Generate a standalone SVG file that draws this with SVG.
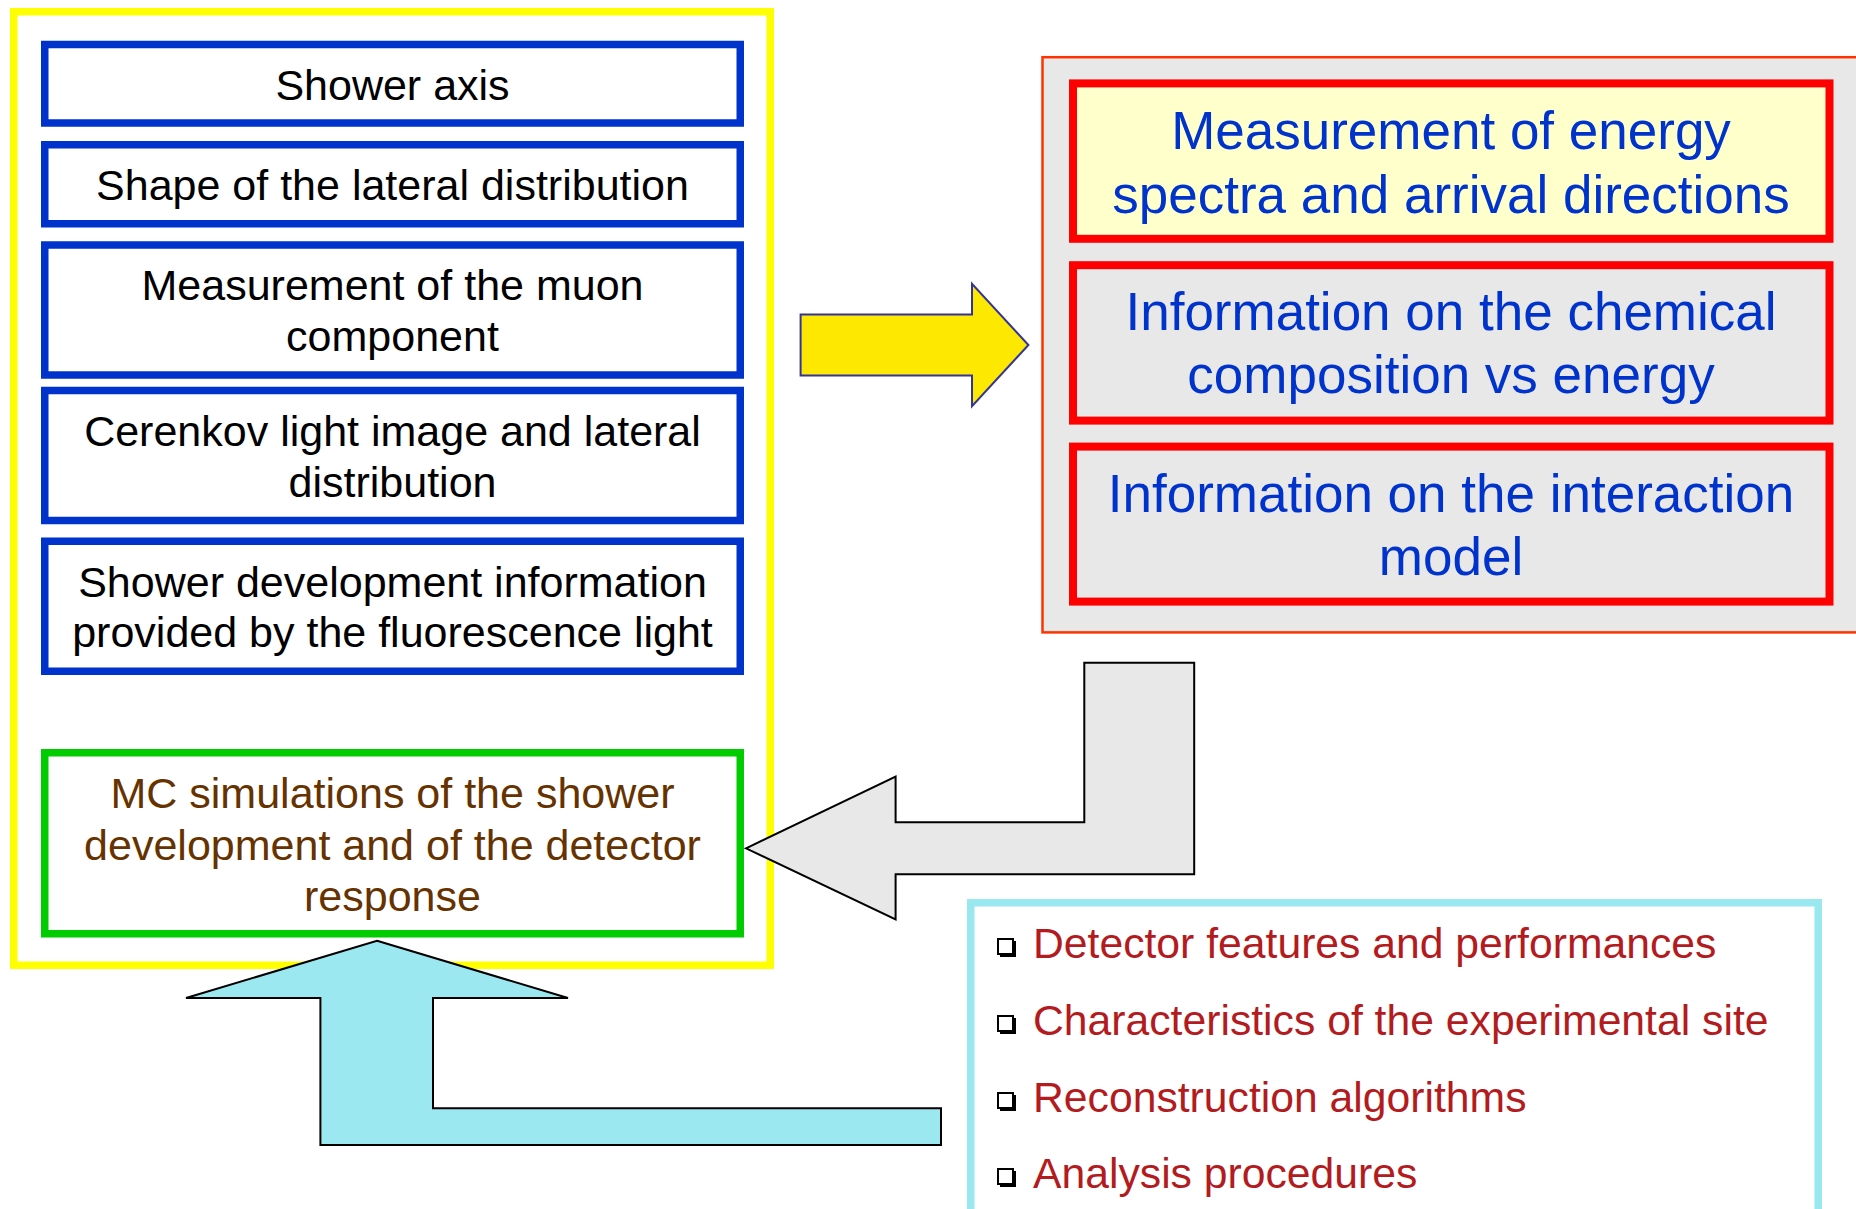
<svg xmlns="http://www.w3.org/2000/svg" width="1856" height="1209" viewBox="0 0 1856 1209">
  <style>
    text { font-family: "Liberation Sans", Arial, sans-serif; text-anchor: middle; }
    .obs rect { fill: #ffffff; stroke: #0033cc; stroke-width: 7.5; }
    .obs text { font-size: 43px; fill: #000000; }
    .res rect { stroke: #ff0000; stroke-width: 8; }
    .res text { font-size: 53px; fill: #0033cc; }
    .mc rect { fill: #ffffff; stroke: #00cc00; stroke-width: 7.5; }
    .mc text { font-size: 43px; fill: #663300; }
    .inputs text { font-size: 42.7px; fill: #b31b1e; text-anchor: start; }
    .arrow { stroke-linejoin: miter; }
  </style>
  <defs>
    <!-- shadowed checkbox bullet -->
    <g id="bullet">
      <rect x="3" y="3" width="16" height="16" fill="#000000"/>
      <rect x="1" y="1" width="15" height="15" fill="#ffffff" stroke="#000000" stroke-width="2"/>
    </g>
  </defs>

  <rect width="1856" height="1209" fill="#ffffff"/>

  <!-- observables frame -->
  <g id="observables-frame">
    <rect x="13.75" y="11.75" width="756.5" height="953.5" fill="#ffffff" stroke="#ffff00" stroke-width="7.5"/>
  </g>

  <g id="shower-axis" class="obs">
    <rect x="44.75" y="44.5" width="695.5" height="78.5"/>
    <text x="392.5" y="100">Shower axis</text>
  </g>
  <g id="lateral-shape" class="obs">
    <rect x="44.75" y="144.75" width="695.5" height="79"/>
    <text x="392.5" y="200">Shape of the lateral distribution</text>
  </g>
  <g id="muon-component" class="obs">
    <rect x="44.75" y="245" width="695.5" height="130"/>
    <text x="392.5" y="300">Measurement of the muon</text>
    <text x="392.5" y="351">component</text>
  </g>
  <g id="cerenkov-light" class="obs">
    <rect x="44.75" y="390.5" width="695.5" height="130"/>
    <text x="392.5" y="445.5">Cerenkov light image and lateral</text>
    <text x="392.5" y="496.5">distribution</text>
  </g>
  <g id="fluorescence-light" class="obs">
    <rect x="44.75" y="541.25" width="695.5" height="130"/>
    <text x="392.5" y="596.5">Shower development information</text>
    <text x="392.5" y="647">provided by the fluorescence light</text>
  </g>

  <g id="mc-simulations" class="mc">
    <rect x="44.75" y="752.75" width="695.5" height="181"/>
    <text x="392.5" y="808">MC simulations of the shower</text>
    <text x="392.5" y="859.5">development and of the detector</text>
    <text x="392.5" y="910.5">response</text>
  </g>

  <!-- results panel -->
  <g id="results-frame">
    <rect x="1042.5" y="57.2" width="900" height="575.2" fill="#e8e8e8" stroke="#ff3300" stroke-width="2.5"/>
  </g>
  <g id="energy-spectra" class="res">
    <rect x="1073" y="83.4" width="756.5" height="155.4" fill="#ffffcc"/>
    <text x="1451" y="149">Measurement of energy</text>
    <text x="1451" y="213">spectra and arrival directions</text>
  </g>
  <g id="chemical-composition" class="res">
    <rect x="1073" y="265.2" width="756.5" height="155.4" fill="#e8e8e8"/>
    <text x="1451" y="329.7">Information on the chemical</text>
    <text x="1451" y="393">composition vs energy</text>
  </g>
  <g id="interaction-model" class="res">
    <rect x="1073" y="446.6" width="756.5" height="155" fill="#e8e8e8"/>
    <text x="1451" y="511.5">Information on the interaction</text>
    <text x="1451" y="574.6">model</text>
  </g>

  <!-- experimental inputs -->
  <g id="experimental-inputs" class="inputs">
    <rect x="970.75" y="902.75" width="847.5" height="400" fill="#ffffff" stroke="#99e8f0" stroke-width="7.5"/>
    <use href="#bullet" x="997" y="938"/>
    <text x="1033" y="958">Detector features and performances</text>
    <use href="#bullet" x="997" y="1015"/>
    <text x="1033" y="1035">Characteristics of the experimental site</text>
    <use href="#bullet" x="997" y="1092"/>
    <text x="1033" y="1112">Reconstruction algorithms</text>
    <use href="#bullet" x="997" y="1168"/>
    <text x="1033" y="1188">Analysis procedures</text>
  </g>

  <!-- block arrows -->
  <g id="connectors">
    <polygon class="arrow" points="800.6,314.4 972,314.4 972,283.8 1028.4,345 972,406.2 972,375.6 800.6,375.6" fill="#fce800" stroke="#333399" stroke-width="2"/>
    <polygon class="arrow" points="746,848.3 895.6,776.7 895.6,822.3 1084.3,822.3 1084.3,662.7 1194.2,662.7 1194.2,874.3 895.6,874.3 895.6,919.3" fill="#e8e8e8" stroke="#000000" stroke-width="2"/>
    <polygon class="arrow" points="377,940.7 568,998 433,998 433,1108.3 941,1108.3 941,1145 320.4,1145 320.4,998 186,998" fill="#9ce8f0" stroke="#000000" stroke-width="2"/>
  </g>
</svg>
